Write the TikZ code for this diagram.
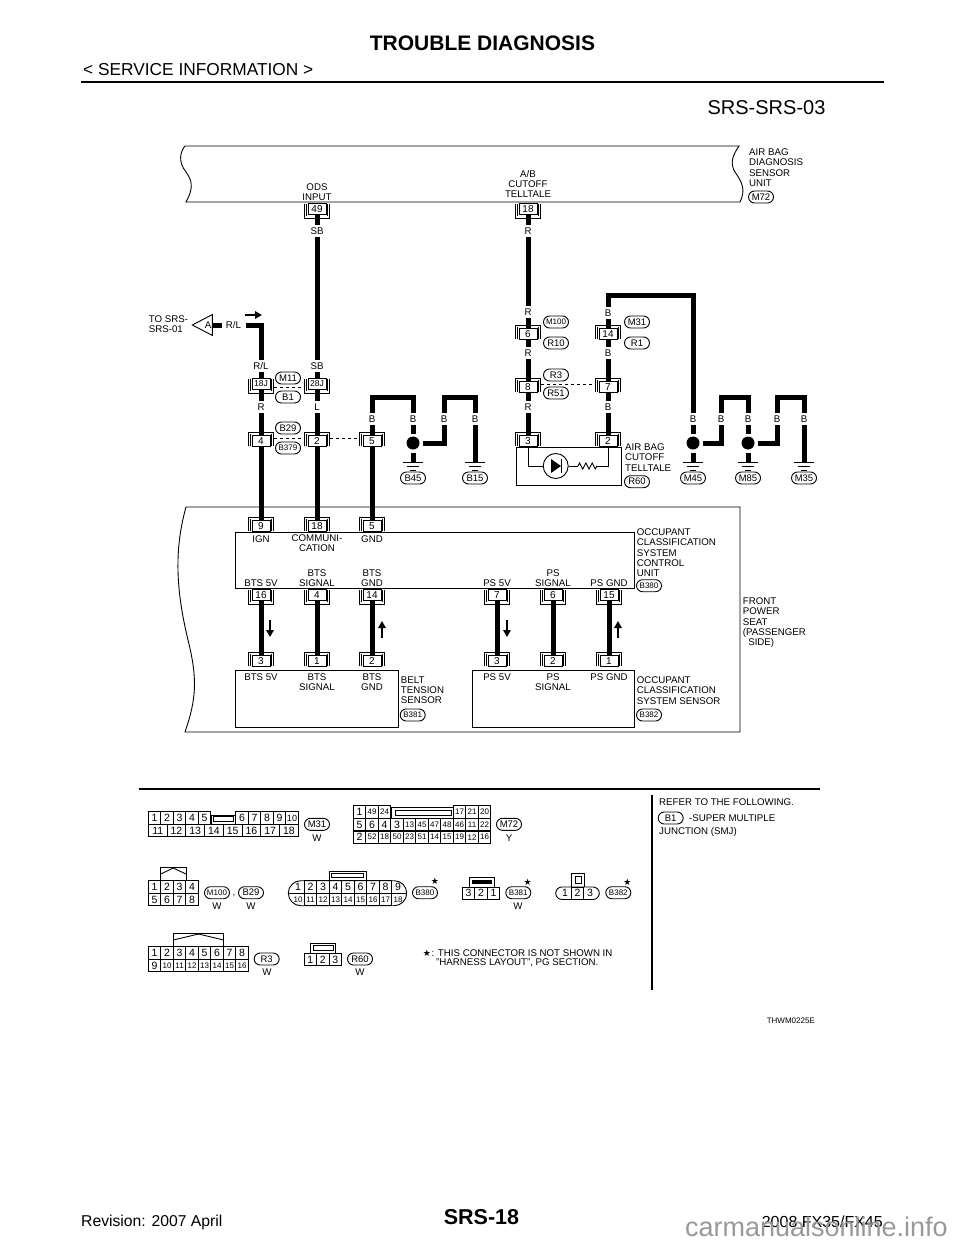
\documentclass[tikz,border=0pt]{standalone}
\usepackage{fontspec}
\setmainfont{Liberation Sans}
\newfontfamily\symfont{DejaVu Sans}
\usetikzlibrary{positioning,arrows.meta,shapes.misc,shapes.geometric,decorations.pathmorphing}
\newcommand{\conup}[4]{
	\draw[brack] (#2-12.5,#3+5) -- (#2-12.5,#3-9) -- (#2+12.5,#3-9) -- (#2+12.5,#3+5);
	\draw[brack] (#2-10.5,#3+5) -- (#2-10.5,#3-7);
	\draw[brack] (#2+10.5,#3+5) -- (#2+10.5,#3-7);
	\node[plug] (#1) at (#2,#3) {#4};
}
\newcommand{\condn}[4]{
	\draw[brack] (#2-12.5,#3-5) -- (#2-12.5,#3+9) -- (#2+12.5,#3+9) -- (#2+12.5,#3-5);
	\draw[brack] (#2-10.5,#3-5) -- (#2-10.5,#3+7);
	\draw[brack] (#2+10.5,#3-5) -- (#2+10.5,#3+7);
	\node[plug] (#1) at (#2,#3) {#4};
}
\newcommand{\earth}[3]{
	\coordinate (#1) at (#2,462);
	\draw[brack] (#2-10,462) -- (#2+10,462);
	\draw[brack] (#2-6,466) -- (#2+6,466);
	\draw[brack] (#2-3,470) -- (#2+3,470);
	\node[tag] (#1tag) at (#2,478) {#3};
}
\begin{document}
\begin{tikzpicture}[x=1pt, y=-1pt, node distance=12.5pt,
		txt/.style = {font=\fontsize{9.7}{10.3}\selectfont, inner sep=0, align=center},
		lft/.style = {txt, align=left, anchor=north west},
		plug/.style = {draw, fill=white, line width=.9pt, minimum width=18pt, minimum height=11pt, inner sep=0, font=\fontsize{10}{10}\selectfont},
		brack/.style = {line width=.9pt},
		wire/.style = {line width=5pt},
		wl/.style = {fill=white, inner sep=0, minimum width=11pt, minimum height=12pt, font=\fontsize{9.7}{10}\selectfont},
		tag/.style = {draw, fill=white, rounded rectangle, line width=.9pt, minimum width=25pt, minimum height=12pt, inner sep=0, font=\fontsize{9.5}{10}\selectfont},
		tags/.style = {tag, font=\fontsize{8}{8}\selectfont},
		spot/.style = {circle, fill, minimum size=13pt, inner sep=0, outer sep=3pt},
		sig/.style = {line width=1.5pt, -{Triangle[length=7pt,width=7.5pt]}},
		pin/.style = {draw, line width=.9pt, minimum width=12.5pt, minimum height=12.5pt, inner sep=0, font=\fontsize{10.5}{10.5}\selectfont},
		pinw/.style = {pin, minimum width=18.75pt, node distance=18.75pt},
		pins/.style = {pin, font=\fontsize{8}{8}\selectfont},
		pinb/.style = {pin, draw=none},
		pinbs/.style = {pins, draw=none},
		body/.style = {draw, rounded rectangle, line width=.9pt, inner sep=0, minimum height=25pt},
		thin/.style = {line width=.9pt}]
	\useasboundingbox (0,0) rectangle (960,1242);
	\fill[white] (0,0) rectangle (960,1242);
	% page head
	\node[inner sep=0, font=\fontsize{21}{21}\selectfont\bfseries] (title) at (482.5,43) {TROUBLE DIAGNOSIS};
	\node[inner sep=0, anchor=west, font=\fontsize{17.3}{18}\selectfont] (service) at (83,70) {< SERVICE INFORMATION >};
	\coordinate (ruleA) at (81,82);
	\coordinate (ruleB) at (884,82);
	\draw[line width=2.7pt] (ruleA) -- (ruleB);
	\node[inner sep=0, font=\fontsize{20}{20}\selectfont] (sheet) at (766.5,108) {SRS-SRS-03};
	% air bag unit
	\draw[thin] (186,202) .. controls (194,188) and (192,180) .. (186,172) .. controls (178,162) and (180,152) .. (185,146) -- (739,146) .. controls (732,156) and (730,164) .. (735,172) .. controls (742,182) and (746,190) .. (740,202) -- cycle;
	\node[txt] (odstxt) at (317,192) {ODS\\INPUT};
	\node[txt] (abtxt) at (528,184) {A/B\\CUTOFF\\TELLTALE};
	\node[lft] (airtxt) at (749,148.5) {AIR BAG\\DIAGNOSIS\\SENSOR\\UNIT};
	\node[tag] (m72tag) at (761,197) {M72};
	% connectors of the harness
	\condn{c49}{317}{209}{49}
	\condn{c18}{528}{209}{18}
	\condn{c18j}{261}{384}{\fontsize{8.5}{8.5}\selectfont 18J}
	\condn{c28j}{317}{384}{\fontsize{8.5}{8.5}\selectfont 28J}
	\conup{c4}{261}{441}{4}
	\conup{c2}{317}{441}{2}
	\conup{c5}{372}{441}{5}
	\conup{c6}{528}{334}{6}
	\conup{c14}{608}{334}{14}
	\conup{c8}{528}{387}{8}
	\conup{c7}{608}{387}{7}
	% lamp unit
	\draw[thin] (516,447) rectangle (621,485);
	\conup{c3l}{528}{441}{3}
	\conup{c2l}{608}{441}{2}
	\node[draw, circle, line width=.9pt, minimum size=25pt, inner sep=0] (lamp) at (555.7,466) {};
	\fill (551,459) -- (561,466) -- (551,473) -- cycle;
	\draw[line width=1.5pt] (561.5,459) -- (561.5,473);
	\coordinate (resa) at (578,466);
	\coordinate (resb) at (597,466);
	\draw[thin] (c3l) |- (lamp);
	\draw[thin] (lamp) -- (resa);
	\draw[thin, decorate, decoration={zigzag, amplitude=3pt, segment length=6.3pt}] (resa) -- (resb);
	\draw[thin] (resb) -| (c2l);
	\node[lft] (lamptxt) at (625,443.5) {AIR BAG\\CUTOFF\\TELLTALE};
	\node[tag] (r60tag) at (637,481.7) {R60};
	% control unit and sensors
	\draw[thin] (186,507) -- (740,507) -- (740,732) -- (185,732) .. controls (196,700) and (198,680) .. (188,640) .. controls (176,590) and (174,550) .. (186,507);
	\draw[thin] (235,532) rectangle (634,588);
	\draw[thin] (235,670) rectangle (398,727);
	\draw[thin] (472,670) rectangle (634,727);
	\conup{c9}{261}{526}{9}
	\conup{c18u}{317}{526}{18}
	\conup{c5u}{372}{526}{5}
	\condn{c16}{261}{595}{16}
	\condn{c4u}{317}{595}{4}
	\condn{c14u}{372}{595}{14}
	\condn{c7u}{497}{595}{7}
	\condn{c6u}{553}{595}{6}
	\condn{c15u}{609}{595}{15}
	\conup{c3s}{261}{661}{3}
	\conup{c1s}{317}{661}{1}
	\conup{c2s}{372}{661}{2}
	\conup{c3p}{497}{661}{3}
	\conup{c2p}{553}{661}{2}
	\conup{c1p}{609}{661}{1}
	% wires
	\node[isosceles triangle, isosceles triangle apex angle=55, shape border rotate=180, draw, fill=white, line width=.9pt, inner sep=0, minimum height=20pt, minimum width=20pt] (toA) at (206,325) {};
	\node[inner sep=0, font=\fontsize{9.7}{10}\selectfont] (atxt) at (208,325) {A};
	\node[lft] (totxt) at (148.7,315.5) {TO SRS-\\SRS-01};
	\coordinate (cA) at (261,325);
	\draw[wire] (c18j) -- (cA) -- (toA.east);
	\draw[wire] (c49) -- (c28j);
	\draw[wire] (c18j) -- (c4);
	\draw[wire] (c28j) -- (c2);
	\draw[wire] (c4) -- (c9);
	\draw[wire] (c2) -- (c18u);
	\draw[wire] (c5) -- (c5u);
	\draw[wire] (c18) -- (c6);
	\draw[wire] (c6) -- (c8);
	\draw[wire] (c8) -- (c3l);
	\draw[wire] (c14) -- (c7);
	\draw[wire] (c7) -- (c2l);
	\draw[wire] (c16) -- (c3s);
	\draw[wire] (c4u) -- (c1s);
	\draw[wire] (c14u) -- (c2s);
	\draw[wire] (c7u) -- (c3p);
	\draw[wire] (c6u) -- (c2p);
	\draw[wire] (c15u) -- (c1p);
	\node[spot] (db45) at (413,443) {};
	\node[spot] (dm45) at (693,443) {};
	\node[spot] (dm85) at (748,443) {};
	\earth{gb45}{413}{B45}
	\earth{gb15}{475}{B15}
	\earth{gm45}{693}{M45}
	\earth{gm85}{748}{M85}
	\earth{gm35}{804}{M35}
	\coordinate (ca) at (413,397);
	\coordinate (cb) at (444,397);
	\coordinate (cc) at (693,295);
	\coordinate (cd) at (721,397);
	\coordinate (ce) at (777,397);
	\draw[wire] (c5) |- (ca) -- (db45);
	\draw[wire] (db45) -- (gb45);
	\draw[wire] (db45) -| (cb) -| (gb15);
	\draw[wire] (c14) |- (cc) -- (dm45);
	\draw[wire] (dm45) -- (gm45);
	\draw[wire] (dm45) -| (cd) -| (dm85);
	\draw[wire] (dm85) -- (gm85);
	\draw[wire] (dm85) -| (ce) -| (gm35);
	% wire colours
	\node[wl] (w1) at (317,231) {SB};
	\node[wl] (w2) at (317,366) {SB};
	\node[wl] (w3) at (261,366) {R/L};
	\node[wl] (w4) at (261,407) {R};
	\node[wl] (w5) at (317,407) {L};
	\node[wl, minimum width=24pt] (w6) at (233.5,325) {R/L};
	\node[wl] (w7) at (372,419) {B};
	\node[wl] (w8) at (413,419) {B};
	\node[wl] (w9) at (444,419) {B};
	\node[wl] (w10) at (475,419) {B};
	\node[wl] (w11) at (528,231) {R};
	\node[wl] (w12) at (528,312) {R};
	\node[wl] (w13) at (528,353) {R};
	\node[wl] (w14) at (528,407) {R};
	\node[wl] (w15) at (608,313) {B};
	\node[wl] (w16) at (608,353) {B};
	\node[wl] (w17) at (608,407) {B};
	\node[wl] (w18) at (693,419) {B};
	\node[wl] (w19) at (721,419) {B};
	\node[wl] (w20) at (748,419) {B};
	\node[wl] (w21) at (777,419) {B};
	\node[wl] (w22) at (804,419) {B};
	% connector numbers
	\node[tag] (m11) at (288,378) {M11};
	\node[tag] (b1) at (288,397) {B1};
	\node[tag] (b29) at (288,428) {B29};
	\node[tags] (b379) at (288,448) {B379};
	\node[tags] (m100) at (556,322) {M100};
	\node[tag] (r10) at (556,343) {R10};
	\node[tag] (r3) at (556,375) {R3};
	\node[tag] (r51) at (556,393) {R51};
	\node[tag] (m31) at (637,322) {M31};
	\node[tag] (r1) at (637,343) {R1};
	\draw[dashed, thin] ([shift={(4,3)}]c18j.east) -- ([shift={(-4,3)}]c28j.west);
	\draw[dashed, thin] ([shift={(4,-3)}]c4.east) -- ([shift={(-4,-3)}]c2.west);
	\draw[dashed, thin] ([shift={(4,-3)}]c2.east) -- ([shift={(-4,-3)}]c5.west);
	\draw[dashed, thin] ([shift={(4,-3)}]c8.east) -- ([shift={(-4,-3)}]c7.west);
	\draw[sig] (245,315) -- (262,315);
	\draw[sig] (270,620) -- (270,637);
	\draw[sig] (382,638) -- (382,621);
	\draw[sig] (507,620) -- (507,637);
	\draw[sig] (618,638) -- (618,621);
	% texts of the units
	\node[txt] (ign) at (261,539) {IGN};
	\node[txt] (com) at (317,543) {COMMUNI-\\CATION};
	\node[txt] (gnd) at (372,539) {GND};
	\node[txt] (bts1) at (261,583) {BTS 5V};
	\node[txt] (bts2) at (317,578) {BTS\\SIGNAL};
	\node[txt] (bts3) at (372,578) {BTS\\GND};
	\node[txt] (ps1) at (497,583) {PS 5V};
	\node[txt] (ps2) at (553,578) {PS\\SIGNAL};
	\node[txt] (ps3) at (609,583) {PS GND};
	\node[txt] (bts4) at (261,677) {BTS 5V};
	\node[txt] (bts5) at (317,682) {BTS\\SIGNAL};
	\node[txt] (bts6) at (372,682) {BTS\\GND};
	\node[txt] (ps4) at (497,677) {PS 5V};
	\node[txt] (ps5) at (553,682) {PS\\SIGNAL};
	\node[txt] (ps6) at (609,677) {PS GND};
	\node[lft] (belt) at (400.7,676.5) {BELT\\TENSION\\SENSOR};
	\node[tags] (b381) at (412.7,715) {B381};
	\node[lft] (occu) at (636.7,528.5) {OCCUPANT\\CLASSIFICATION\\SYSTEM\\CONTROL\\UNIT};
	\node[tags] (b380) at (649,585.7) {B380};
	\node[lft] (occs) at (636.7,676.5) {OCCUPANT\\CLASSIFICATION\\SYSTEM SENSOR};
	\node[tags] (b382) at (649,715) {B382};
	\node[lft] (seat) at (742.7,597.5) {FRONT\\POWER\\SEAT\\(PASSENGER\\\ \ SIDE)};
	% lower part
	\coordinate (lowA) at (139,789);
	\coordinate (lowB) at (820,789);
	\coordinate (lowC) at (652,795);
	\coordinate (lowD) at (652,990);
	\draw[line width=1.2pt] (lowA) -- (lowB);
	\draw[line width=1.2pt] (lowC) -- (lowD);
	\node[lft] (refer) at (659,799) {REFER TO THE FOLLOWING.};
	\node[tag] (b1b) at (670.7,818) {B1};
	\node[lft] (smj) at (689,814.5) {-SUPER MULTIPLE};
	\node[lft] (jun) at (659,827.5) {JUNCTION (SMJ)};
	% connector M31
	\draw[thin] (211,824.3) -- (211,815) -- (235.7,815) -- (235.7,824.3);
	\draw[thin] (213.3,816.7) rectangle (233.3,821);
	\node[pin] (m31a) at (154.6,818) {1};
	\node[pin] (m31b) [right of=m31a] {2};
	\node[pin] (m31c) [right of=m31b] {3};
	\node[pin] (m31d) [right of=m31c] {4};
	\node[pin] (m31e) [right of=m31d] {5};
	\node[pin] (m31f) at (242,818) {6};
	\node[pin] (m31g) [right of=m31f] {7};
	\node[pin] (m31h) [right of=m31g] {8};
	\node[pin] (m31i) [right of=m31h] {9};
	\node[pin] (m31j) [right of=m31i] {\fontsize{9}{9}\selectfont 10};
	\node[pinw] (m31k) at (157.7,830.5) {11};
	\node[pinw] (m31l) [right of=m31k] {12};
	\node[pinw] (m31m) [right of=m31l] {13};
	\node[pinw] (m31n) [right of=m31m] {14};
	\node[pinw] (m31o) [right of=m31n] {15};
	\node[pinw] (m31p) [right of=m31o] {16};
	\node[pinw] (m31q) [right of=m31p] {17};
	\node[pinw] (m31r) [right of=m31q] {18};
	\node[tag] (m31low) at (317,824.3) {M31};
	\node[txt] (m31w) at (317,838) {W};
	% connector M72
	\draw[thin] (391.7,818) -- (391.7,807.7) -- (453.3,807.7) -- (453.3,818);
	\draw[thin] (395,810) rectangle (451.7,815);
	\node[pin] (m72a) at (359.6,812) {1};
	\node[pins] (m72b) [right of=m72a] {49};
	\node[pins] (m72c) [right of=m72b] {24};
	\node[pins] (m72d) at (459.6,812) {17};
	\node[pins] (m72e) [right of=m72d] {21};
	\node[pins] (m72f) [right of=m72e] {20};
	\node[pin] (m72g) at (359.6,824.6) {5};
	\node[pin] (m72h) [right of=m72g] {6};
	\node[pin] (m72i) [right of=m72h] {4};
	\node[pin] (m72j) [right of=m72i] {3};
	\node[pins] (m72k) [right of=m72j] {13};
	\node[pins] (m72l) [right of=m72k] {45};
	\node[pins] (m72m) [right of=m72l] {47};
	\node[pins] (m72n) [right of=m72m] {48};
	\node[pins] (m72o) [right of=m72n] {46};
	\node[pins] (m72p) [right of=m72o] {11};
	\node[pins] (m72q) [right of=m72p] {22};
	\node[pin] (m72r) at (359.6,837.2) {2};
	\node[pins] (m72s) [right of=m72r] {52};
	\node[pins] (m72t) [right of=m72s] {18};
	\node[pins] (m72u) [right of=m72t] {50};
	\node[pins] (m72v) [right of=m72u] {23};
	\node[pins] (m72w) [right of=m72v] {51};
	\node[pins] (m72x) [right of=m72w] {14};
	\node[pins] (m72y) [right of=m72x] {15};
	\node[pins] (m72z) [right of=m72y] {19};
	\node[pins] (m72aa) [right of=m72z] {12};
	\node[pins] (m72ab) [right of=m72aa] {16};
	\node[tag] (m72low) at (509,824.3) {M72};
	\node[txt] (m72ytxt) at (509,838) {Y};
	% connector M100, B29
	\draw[thin] (160.7,880.7) -- (160.7,867.7) -- (186,867.7) -- (186,880.7);
	\draw[thin] (160.7,874) -- (173.3,868) -- (186,874);
	\node[pin] (m1a) at (154.6,887) {1};
	\node[pin] (m1b) [right of=m1a] {2};
	\node[pin] (m1c) [right of=m1b] {3};
	\node[pin] (m1d) [right of=m1c] {4};
	\node[pin] (m1e) at (154.6,899.5) {5};
	\node[pin] (m1f) [right of=m1e] {6};
	\node[pin] (m1g) [right of=m1f] {7};
	\node[pin] (m1h) [right of=m1g] {8};
	\node[tags] (m100low) at (217,892.7) {M100};
	\node[txt] (comma) at (234,896) {,};
	\node[tag] (b29low) at (251,892.7) {B29};
	\node[txt] (m100w) at (217,906) {W};
	\node[txt] (b29w) at (251,906) {W};
	% connector B380
	\draw[thin] (329,880.7) -- (329,871) -- (366,871) -- (366,880.7);
	\draw[thin] (331.7,873.3) rectangle (363.3,877.7);
	\node[body, minimum width=118.4pt] (b380body) at (347.5,893.2) {};
	\draw[thin] (b380body.west) -- (b380body.east);
	\node[pinb] (b3a) at (298,887) {1};
	\node[pin] (b3b) [right of=b3a] {2};
	\node[pin] (b3c) [right of=b3b] {3};
	\node[pin] (b3d) [right of=b3c] {4};
	\node[pin] (b3e) [right of=b3d] {5};
	\node[pin] (b3f) [right of=b3e] {6};
	\node[pin] (b3g) [right of=b3f] {7};
	\node[pin] (b3h) [right of=b3g] {8};
	\node[pinb] (b3i) [right of=b3h] {9};
	\node[pinbs] (b3j) at (298,899.5) {10};
	\node[pins] (b3k) [right of=b3j] {11};
	\node[pins] (b3l) [right of=b3k] {12};
	\node[pins] (b3m) [right of=b3l] {13};
	\node[pins] (b3n) [right of=b3m] {14};
	\node[pins] (b3o) [right of=b3n] {15};
	\node[pins] (b3p) [right of=b3o] {16};
	\node[pins] (b3q) [right of=b3p] {17};
	\node[pinbs] (b3r) [right of=b3q] {18};
	\node[tags] (b380low) at (425,892.7) {B380};
	\node[inner sep=0, font=\symfont\fontsize{9}{9}\selectfont] (star1) at (435,881.7) {★};
	% connector B381
	\draw[thin] (469,887.3) -- (469,877.7) -- (494,877.7) -- (494,887.3);
	\fill (471.7,880) rectangle (491.7,884.3);
	\node[pin] (b4a) at (468.5,893.3) {3};
	\node[pin] (b4b) [right of=b4a] {2};
	\node[pin] (b4c) [right of=b4b] {1};
	\node[tags] (b381low) at (518.3,892.7) {B381};
	\node[inner sep=0, font=\symfont\fontsize{9}{9}\selectfont] (star2) at (527.7,882) {★};
	\node[txt] (b381w) at (518,906) {W};
	% connector B382
	\draw[thin] (571.7,887.3) -- (571.7,873.3) -- (584,873.3) -- (584,887.3);
	\draw[thin] (575,876.7) rectangle (581,883.3);
	\node[body, minimum width=43.6pt, minimum height=12.5pt] (b382body) at (577.5,893.2) {};
	\node[pinb] (b5a) at (565,893.2) {1};
	\node[pin] (b5b) [right of=b5a] {2};
	\node[pinb] (b5c) [right of=b5b] {3};
	\node[tags] (b382low) at (618.3,892.7) {B382};
	\node[inner sep=0, font=\symfont\fontsize{9}{9}\selectfont] (star3) at (627.3,882) {★};
	% connector R3
	\draw[thin] (173.3,946.7) -- (173.3,933.7) -- (223.7,933.7) -- (223.7,946.7);
	\draw[thin] (173.3,940) -- (198.5,934) -- (223.7,940);
	\node[pin] (r3a) at (154.6,953) {1};
	\node[pin] (r3b) [right of=r3a] {2};
	\node[pin] (r3c) [right of=r3b] {3};
	\node[pin] (r3d) [right of=r3c] {4};
	\node[pin] (r3e) [right of=r3d] {5};
	\node[pin] (r3f) [right of=r3e] {6};
	\node[pin] (r3g) [right of=r3f] {7};
	\node[pin] (r3h) [right of=r3g] {8};
	\node[pin] (r3i) at (154.6,965.5) {9};
	\node[pins] (r3j) [right of=r3i] {10};
	\node[pins] (r3k) [right of=r3j] {11};
	\node[pins] (r3l) [right of=r3k] {12};
	\node[pins] (r3m) [right of=r3l] {13};
	\node[pins] (r3n) [right of=r3m] {14};
	\node[pins] (r3o) [right of=r3n] {15};
	\node[pins] (r3p) [right of=r3o] {16};
	\node[tag] (r3low) at (266.7,959) {R3};
	\node[txt] (r3w) at (267,972) {W};
	% connector R60
	\draw[thin] (310.7,953.3) -- (310.7,943.3) -- (335.7,943.3) -- (335.7,953.3);
	\draw[thin] (313.3,945.7) rectangle (333.3,950);
	\node[pin] (r6a) at (310.2,959.5) {1};
	\node[pin] (r6b) [right of=r6a] {2};
	\node[pin] (r6c) [right of=r6b] {3};
	\node[tag] (r60low) at (360,959) {R60};
	\node[txt] (r60w) at (360,972) {W};
	% note and foot
	\node[inner sep=0, font=\symfont\fontsize{9}{9}\selectfont] (star4) at (427,953) {★};
	\node[txt, anchor=west] (note1) at (431.5,953) {: THIS CONNECTOR IS NOT SHOWN IN};
	\node[txt, anchor=west] (note2) at (436,963) {"HARNESS LAYOUT", PG SECTION.};
	\node[inner sep=0, anchor=east, font=\fontsize{8}{8}\selectfont] (code) at (815,1021) {THWM0225E};
	\node[inner sep=0, anchor=west, font=\fontsize{15.7}{16}\selectfont] (rev) at (81,1222) {Revision: 2007 April};
	\node[inner sep=0, font=\fontsize{21.5}{22}\selectfont\bfseries] (pg) at (481.5,1217) {SRS-18};
	\node[inner sep=0, anchor=east, font=\fontsize{16}{16}\selectfont] (model) at (883,1222) {2008 FX35/FX45};
	\node[inner sep=0, anchor=east, text=black!40, font=\fontsize{27}{27}\selectfont] (mark) at (948,1227) {carmanualsonline.info};
\end{tikzpicture}
\end{document}
